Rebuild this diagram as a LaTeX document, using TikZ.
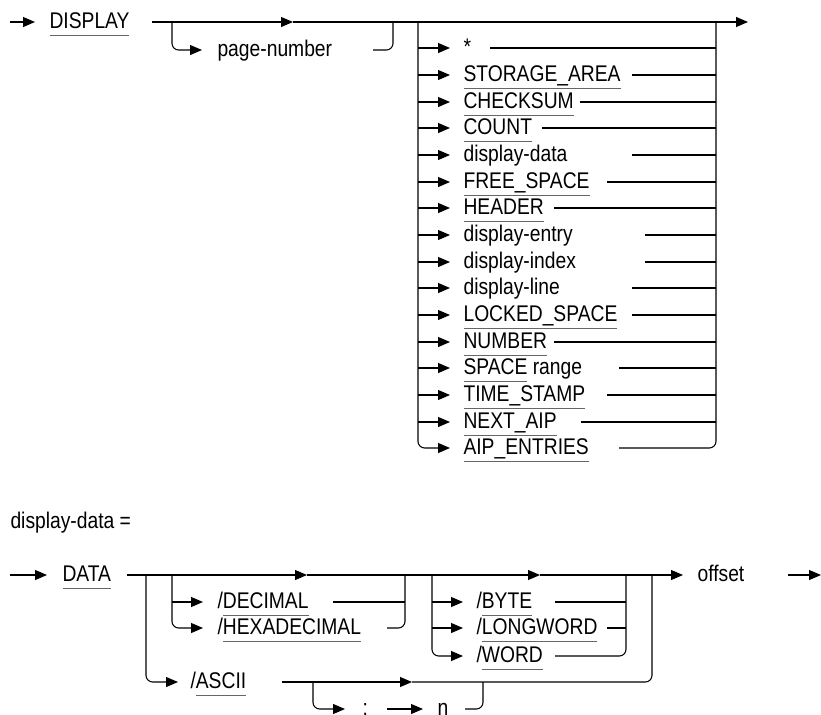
\documentclass[tikz,border=0pt]{standalone}
\usepackage{fontspec}
\setmainfont{Liberation Sans}[FakeStretch=0.85]
\usetikzlibrary{arrows.meta}
\definecolor{ulgray}{gray}{0.4}
\newlength\kwlen
\newcommand\kw[1]{\settowidth\kwlen{#1}\rlap{\textcolor{ulgray}{\rule[-5.4pt]{\kwlen}{0.8pt}}}#1}
\begin{document}
\begin{tikzpicture}[x=0.75pt,y=-0.75pt,line width=0.8pt,
  arr/.style={-{Triangle[length=9pt,width=7.5pt]}},
  rc/.style={rounded corners=5pt},
  txt/.style={anchor=base west,inner sep=0pt,font=\fontsize{17}{19}\selectfont}]
\useasboundingbox (0,0) rectangle (821,714);
\clip (0,0) rectangle (821,714);
% ---------- top diagram ----------
\coordinate (t0) at (10,22); \coordinate (t1) at (35,22);
\draw[arr] (t0) -- (t1);
\node[txt] (display) at (49,28.7) {\kw{DISPLAY}};
\coordinate (m0) at (152,22); \coordinate (m1) at (293,22);
\coordinate (m2) at (716,22); \coordinate (m3) at (748,22);
\draw[arr] (m0) -- (m1);
\draw (m1) -- (m2);
\draw[arr] (m2) -- (m3);
\coordinate (p0) at (172,22); \coordinate (p1) at (202,50);
\coordinate (p2) at (373,50); \coordinate (p3) at (393,22);
\draw[arr,rc] (p0) |- (p1);
\node[txt] (page) at (217,56.7) {page-number};
\draw[rc] (p2) -| (p3);
% list
\coordinate (lt) at (418,22); \coordinate (rt) at (716,22);
\foreach \i/\yy/\t/\xr in {1/48/*/490, 2/75/\kw{STORAGE\_AREA}/632, 3/102/\kw{CHECKSUM}/580,
  4/128/\kw{COUNT}/542, 5/155/display-data/632, 6/182/\kw{FREE\_SPACE}/607, 7/208/\kw{HEADER}/554,
  8/235/display-entry/645, 9/262/display-index/645, 10/288/display-line/632,
  11/315/\kw{LOCKED\_SPACE}/632, 12/342/\kw{NUMBER}/554, 13/368/\kw{SPACE} range/619,
  14/395/\kw{TIME\_STAMP}/607, 15/422/\kw{NEXT\_AIP}/581, 16/448/\kw{AIP\_ENTRIES}/619}{
  \coordinate (L\i) at (418,\yy); \coordinate (A\i) at (450,\yy);
  \coordinate (R\i) at (\xr,\yy); \coordinate (E\i) at (716,\yy);
  \node[txt] (r\i) at (463,\yy+6.7) {\t};
}
\foreach \i in {1,...,15}{
  \draw[arr] (L\i) -- (A\i);
  \draw (R\i) -- (E\i);
}
\draw[arr,rc] (lt) |- (A16);
\draw[rc] (R16) -| (rt);
% ---------- bottom diagram ----------
\node[txt] (dd) at (10,528) {display-data =};
\coordinate (d0) at (10,575); \coordinate (d1) at (47,575);
\draw[arr] (d0) -- (d1);
\node[txt] (data) at (62,581.7) {\kw{DATA}};
\coordinate (b0) at (127,575); \coordinate (b1) at (307,575);
\coordinate (b2) at (540,575); \coordinate (b3) at (683,575);
\draw[arr] (b0) -- (b1);
\draw[arr] (b1) -- (b2);
\draw[arr] (b2) -- (b3);
\node[txt] (offset) at (697,581.7) {offset};
\coordinate (o0) at (788,575); \coordinate (o1) at (821,575);
\draw[arr] (o0) -- (o1);
% DECIMAL group
\coordinate (g1) at (172,575);
\draw[arr] (172,602) coordinate (g1a) -- (203,602) coordinate (g1b);
\draw[arr,rc] (g1) |- (203,628) coordinate (g1c);
\node[txt] (dec) at (217,608.7) {/\kw{DECIMAL}};
\node[txt] (hex) at (217,634.7) {/\kw{HEXADECIMAL}};
\draw (333,602) coordinate (g1d) -- (405,602) coordinate (g1e);
\draw[rc] (387,628) coordinate (g1f) -| (405,575);
% BYTE group
\coordinate (g2) at (432,575);
\draw[arr] (432,602) coordinate (g2a) -- (463,602) coordinate (g2b);
\draw[arr] (432,628) coordinate (g2c) -- (463,628) coordinate (g2d);
\draw[arr,rc] (g2) |- (463,656) coordinate (g2e);
\node[txt] (byte) at (476,608.7) {/\kw{BYTE}};
\node[txt] (long) at (476,634.7) {/\kw{LONGWORD}};
\node[txt] (word) at (476,662.7) {/\kw{WORD}};
\draw (555,602) coordinate (g2f) -- (626,602) coordinate (g2g);
\draw (607,628) coordinate (g2h) -- (626,628) coordinate (g2i);
\draw[rc] (555,656) coordinate (g2j) -| (626,575);
% ASCII
\coordinate (g3) at (146,575);
\draw[arr,rc] (g3) |- (178,682) coordinate (g3a);
\node[txt] (ascii) at (190,688.7) {/\kw{ASCII}};
\draw[arr] (282,682) coordinate (g3b) -- (412,682) coordinate (g3c);
\draw[rc] (g3c) -| (652,575);
\coordinate (g4) at (313,682);
\draw[arr,rc] (g4) |- (345,709) coordinate (g4a);
\node[txt] (colon) at (362,715.7) {:};
\draw[arr] (387,709) coordinate (g4b) -- (423,709) coordinate (g4c);
\node[txt] (n) at (437,715.7) {n};
\draw[rc] (465,709) coordinate (g4d) -| (483,682);
\end{tikzpicture}
\end{document}
